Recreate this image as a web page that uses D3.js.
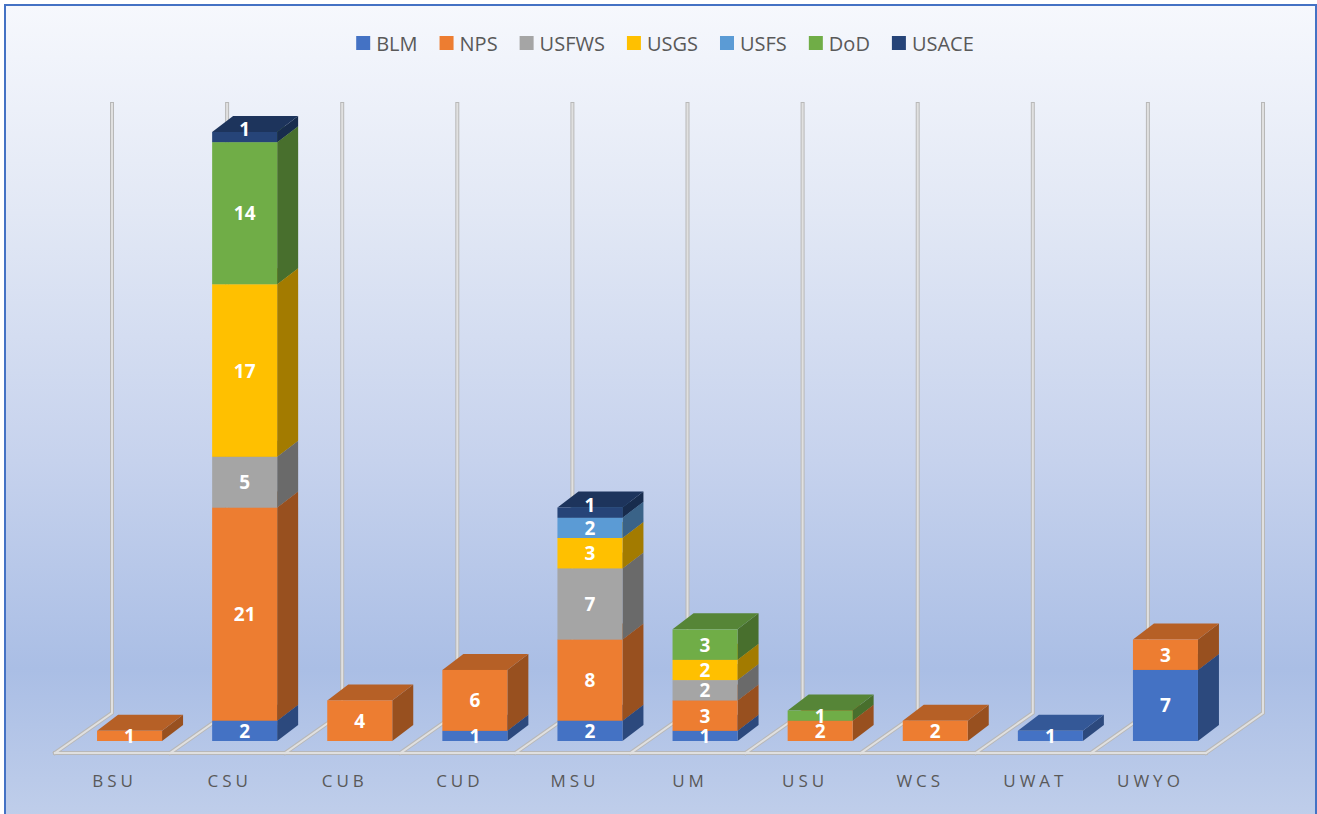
<!DOCTYPE html>
<html>
<head>
<meta charset="utf-8">
<script src="https://d3js.org/d3.v7.min.js"></script>
<style>
  html, body { margin: 0; padding: 0; background: #ffffff; }
  svg { display: block; }
</style>
</head>
<body>
<div id="grafico"></div>
<script>
// data
const categories = ["BSU", "CSU", "CUB", "CUD", "MSU", "UM", "USU", "WCS", "UWAT", "UWYO"];
const seriesNames = ["BLM", "NPS", "USFWS", "USGS", "USFS", "DoD", "USACE"];
const seriesColors = ["#4472c4", "#ed7d31", "#a5a5a5", "#ffc000", "#5b9bd5", "#70ad47", "#264478"];
const BLM   = [0, 2, 0, 1, 2, 1, 0, 0, 1, 7];
const NPS   = [1, 21, 4, 6, 8, 3, 2, 2, 0, 3];
const USFWS = [0, 5, 0, 0, 7, 2, 0, 0, 0, 0];
const USGS  = [0, 17, 0, 0, 3, 2, 0, 0, 0, 0];
const USFS  = [0, 0, 0, 0, 2, 0, 0, 0, 0, 0];
const DoD   = [0, 14, 0, 0, 0, 3, 1, 0, 0, 0];
const USACE = [0, 1, 0, 0, 1, 0, 0, 0, 0, 0];
const yMax = 60;

const seriesValues = [BLM, NPS, USFWS, USGS, USFS, DoD, USACE];
const table = categories.map((c, i) => {
  const row = { cat: c };
  seriesNames.forEach((s, j) => row[s] = seriesValues[j][i]);
  return row;
});
const stacked = d3.stack().keys(seriesNames)(table);

const ancho = 1317, alto = 814;

// 3D geometry
const floorFront = 753;      // y of floor front edge
const floorDx = 57, floorDy = -40;  // floor depth offset
const barOffX = 17, barOffY = -12;  // bar front relative to floor front
const barDx = 21, barDy = -16;      // bar depth
const barWidth = 65;

const x = d3.scaleBand().domain(categories).range([55, 1206]).padding(0);
const h = d3.scaleLinear().domain([0, yMax]).range([0, 609]);

const svg = d3.select("#grafico").append("svg")
  .attr("width", ancho).attr("height", alto);

// background gradient
const defs = svg.append("defs");
const grad = defs.append("linearGradient").attr("id", "bg")
  .attr("x1", 0).attr("y1", 0).attr("x2", 0).attr("y2", 1);
[[0, "#f6f8fd"], [0.25, "#e2e8f5"], [0.55, "#c6d2ed"], [0.8, "#aabee5"], [1, "#c2d0eb"]]
  .forEach(s => grad.append("stop").attr("offset", s[0]).attr("stop-color", s[1]));

svg.append("rect").attr("x", 5).attr("y", 5).attr("width", 1311).attr("height", 830)
  .attr("fill", "url(#bg)").attr("stroke", "#4472c4").attr("stroke-width", 2);

// floor and wall lines
const lineG = svg.append("g").attr("fill", "none").attr("stroke-linecap", "square");
const edges = x.domain().map(d => x(d)).concat([x.range()[1]]);
function gridPath() {
  let p = `M${edges[0]},${floorFront}L${edges[edges.length - 1]},${floorFront}`;
  edges.forEach(e => {
    p += `M${e},${floorFront}L${e + floorDx},${floorFront + floorDy}L${e + floorDx},${floorFront + floorDy - h(yMax)}`;
  });
  return p;
}
lineG.append("path").attr("d", gridPath()).attr("stroke", "#b8b8b8").attr("stroke-width", 4);
lineG.append("path").attr("d", gridPath()).attr("stroke", "#e0e0e0").attr("stroke-width", 2);

function shade(c, k) {
  const col = d3.rgb(c);
  return d3.rgb(col.r * k, col.g * k, col.b * k).formatHex();
}

// bars
const base = floorFront + barOffY;
const barG = svg.append("g");
const labels = [];
categories.forEach((cat, i) => {
  const x0 = x(cat) + barOffX + (x.bandwidth() - barWidth) / 2;
  const x1 = x0 + barWidth;
  const present = stacked.filter(layer => layer[i][1] - layer[i][0] > 0);
  present.forEach((layer, k) => {
    const j = seriesNames.indexOf(layer.key);
    const v0 = layer[i][0], v1 = layer[i][1];
    const yb = base - h(v0), yt = base - h(v1);
    const color = seriesColors[j];
    const g = barG.append("g");
    // side
    g.append("path")
      .attr("d", `M${x1},${yb}L${x1 + barDx},${yb + barDy}L${x1 + barDx},${yt + barDy}L${x1},${yt}Z`)
      .attr("fill", shade(color, 0.64));
    // top
    g.append("path")
      .attr("d", `M${x0},${yt}L${x1},${yt}L${x1 + barDx},${yt + barDy}L${x0 + barDx},${yt + barDy}Z`)
      .attr("fill", shade(color, 0.77));
    // front
    g.append("rect")
      .attr("x", x0).attr("y", yt).attr("width", barWidth).attr("height", yb - yt)
      .attr("fill", color);
    // thin top segments of tall stacks get their label nudged onto the top face
    const nudge = (k === present.length - 1 && present.length > 2 && yb - yt < 15) ? 8 : 0;
    labels.push({ x: (x0 + x1) / 2, y: (yb + yt) / 2 - nudge, v: v1 - v0 });
  });
});

// data labels
svg.append("g").selectAll("text").data(labels).join("text")
  .attr("x", d => d.x).attr("y", d => d.y)
  .attr("text-anchor", "middle").attr("dominant-baseline", "central")
  .attr("fill", "#ffffff")
  .style("font-family", "'Open Sans', 'Noto Sans', sans-serif")
  .style("font-weight", "bold").style("font-size", "19px")
  .text(d => d.v);

// category labels
svg.append("g").selectAll("text").data(categories).join("text")
  .attr("x", d => x(d) + x.bandwidth() / 2 + 2)
  .attr("y", 780)
  .attr("text-anchor", "middle").attr("dominant-baseline", "central")
  .attr("fill", "#595959")
  .style("font-family", "'Open Sans', 'Noto Sans', sans-serif")
  .style("font-size", "17px").style("letter-spacing", "4px")
  .text(d => d);

// legend
const legend = svg.append("g");
const items = legend.selectAll("g").data(seriesNames).join("g");
items.append("rect").attr("width", 14).attr("height", 14).attr("y", 36)
  .attr("fill", (d, j) => seriesColors[j]);
items.append("text").attr("x", 20).attr("y", 43)
  .attr("dominant-baseline", "central")
  .attr("fill", "#595959")
  .style("font-family", "'Open Sans', 'Noto Sans', sans-serif")
  .style("font-size", "20px")
  .text(d => d);
let pos = 0;
const offsets = [];
items.each(function () {
  offsets.push(pos);
  const w = d3.select(this).select("text").node().getComputedTextLength();
  pos += 20 + w + 22;
});
const total = pos - 22;
const startX = 665 - total / 2;
items.attr("transform", (d, j) => `translate(${startX + offsets[j]},0)`);
</script>
</body>
</html>
